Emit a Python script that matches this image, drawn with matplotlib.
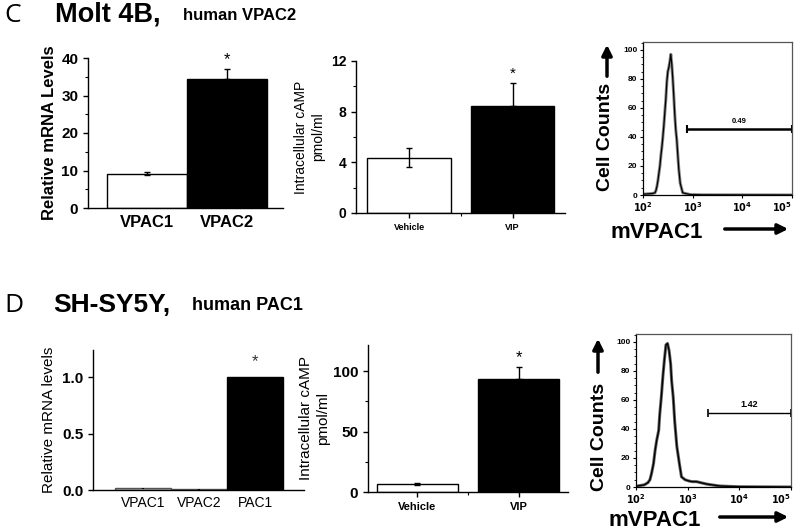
import matplotlib
matplotlib.use("Agg")
import matplotlib.pyplot as plt
import numpy as np
from matplotlib.ticker import MultipleLocator, LogLocator, NullFormatter, FixedLocator

plt.rcParams['font.family'] = ['Liberation Sans', 'DejaVu Sans']

# ---------------- data ----------------
c_mrna_labels = ['VPAC1', 'VPAC2']
c_mrna_values = [9.1, 34.4]
c_mrna_err = [0.4, 2.6]

c_camp_labels = ['Vehicle', 'VIP']
c_camp_values = [4.35, 8.45]
c_camp_err = [0.75, 1.85]

d_mrna_labels = ['VPAC1', 'VPAC2', 'PAC1']
d_mrna_values = [0.015, 0.005, 1.0]
d_mrna_err = [0.004, 0.001, 0.0]

d_camp_labels = ['Vehicle', 'VIP']
d_camp_values = [6.5, 93.0]
d_camp_err = [0.6, 10.0]

# flow histograms: fluorescence intensity and % of max
c_flow_x = [100, 126, 151, 174, 182, 191, 200, 209, 219, 229, 240, 251, 263, 275, 288,
            302, 316, 331, 347, 363, 380, 398, 417, 437, 457, 479, 501, 525, 562, 631,
            891, 1585, 100000]
c_flow_y = [0.5, 0.8, 1.0, 1.5, 3, 6, 10, 15, 20, 27, 33, 40, 48, 57, 66,
            78, 85, 88, 92, 97, 90, 80, 68, 55, 45, 38, 28, 18, 8, 1.5,
            0.3, 0.1, 0.0]
c_gate = [776, 100000, 45.5]
c_gate_label = '0.49'

d_flow_x = [100, 120, 145, 170, 186, 200, 218, 234, 251, 275, 288, 309, 331, 355,
            380, 407, 437, 468, 490, 525, 562, 617, 692, 759, 891, 1096, 1230,
            1479, 1778, 2344, 3311, 4169, 6607, 10000, 100000]
d_flow_y = [0.5, 1.0, 1.5, 3, 5, 9.4, 16, 25, 32, 39, 50, 62, 76, 88,
            98, 99, 94, 85, 73, 62, 45, 28, 16, 7, 5, 4, 3.7, 3.7,
            3.0, 2.0, 1.2, 0.7, 0.4, 0.2, 0.0]
d_gate = [2455, 100000, 51]
d_gate_label = '1.42'

W, H = 800, 532
fig = plt.figure(figsize=(8, 5.32), dpi=100)


def ax_px(x0, x1, ytop, ybot):
    return fig.add_axes([x0 / W, 1 - ybot / H, (x1 - x0) / W, (ybot - ytop) / H])


def style_bar_axes(ax):
    for s in ['top', 'right']:
        ax.spines[s].set_visible(False)
    for s in ['left', 'bottom']:
        ax.spines[s].set_linewidth(1.0)
    ax.tick_params(direction='out', width=1.0, length=3.5)
    ax.tick_params(which='minor', direction='out', width=0.8, length=2)


# ================= Panel C =================
fig.text(4 / W, 1 - 15 / H, 'C', fontsize=19, fontweight='normal',
         family=['Open Sans', 'DejaVu Sans'], va='center', ha='left')
fig.text(55 / W, 1 - 15 / H, 'Molt 4B,', fontsize=19.5, fontweight='bold', va='center')
fig.text(183 / W, 1 - 16 / H, 'human VPAC2', fontsize=12, fontweight='bold', va='center')

# C1 mRNA
ax = ax_px(88, 283, 58, 208)
pos = np.arange(len(c_mrna_values))
ax.bar(pos, c_mrna_values, width=1.0, color=['white', 'black'], edgecolor='black', linewidth=1.0)
ax.errorbar(pos, c_mrna_values, yerr=[[c_mrna_err[0], 0], c_mrna_err], fmt='none',
            ecolor='black', elinewidth=1.0, capsize=2.5, capthick=1.0)
ax.text(pos[1], c_mrna_values[1] + c_mrna_err[1] + 0.6, '*', ha='center', va='bottom', fontsize=12)
ax.set_xlim(-0.74, 1.70)
ax.set_ylim(0, 40)
ax.set_yticks([0, 10, 20, 30, 40])
ax.yaxis.set_minor_locator(MultipleLocator(5))
ax.set_xticks(pos)
ax.set_xticklabels(c_mrna_labels, fontsize=12, fontweight='bold')
for t in ax.get_yticklabels():
    t.set_fontweight('bold'); t.set_fontsize(11)
style_bar_axes(ax)
ax.tick_params(axis='x', length=0, pad=5)
ax.set_ylabel('Relative mRNA Levels', fontsize=12, fontweight='bold', labelpad=3)

# C2 cAMP
ax = ax_px(356, 565, 61, 213)
pos = np.arange(len(c_camp_values))
ax.bar(pos, c_camp_values, width=0.81, color=['white', 'black'], edgecolor='black', linewidth=1.0)
ax.errorbar(pos[0], c_camp_values[0], yerr=c_camp_err[0], fmt='none', ecolor='black',
            elinewidth=1.0, capsize=2.5, capthick=1.0)
ax.errorbar(pos[1], c_camp_values[1], yerr=[[0], [c_camp_err[1]]], fmt='none', ecolor='black',
            elinewidth=1.0, capsize=2.5, capthick=1.0)
ax.text(pos[1], c_camp_values[1] + c_camp_err[1] + 0.15, '*', ha='center', va='bottom', fontsize=11)
ax.set_xlim(-0.512, 1.507)
ax.set_ylim(0, 12)
ax.set_yticks([0, 4, 8, 12])
ax.yaxis.set_minor_locator(MultipleLocator(2))
ax.set_xticks(pos)
ax.xaxis.set_minor_locator(FixedLocator([0.5]))
ax.set_xticklabels(c_camp_labels, fontsize=6.5, fontweight='bold')
for t in ax.get_yticklabels():
    t.set_fontweight('bold'); t.set_fontsize(10)
style_bar_axes(ax)
ax.set_ylabel('Intracellular cAMP\npmol/ml', fontsize=10, labelpad=4, linespacing=1.3)

# C3 flow
ax = ax_px(643, 792, 42, 195)
ax.plot(c_flow_x, c_flow_y, color='#888888', lw=2.2)
ax.plot(c_flow_x, c_flow_y, color='black', lw=0.9)
ax.set_xscale('log')
ax.set_xlim(100, 100000)
ax.set_ylim(0, 105.5)
ax.hlines(c_gate[2], c_gate[0], c_gate[1], color='black', lw=1.8)
ax.vlines([c_gate[0], c_gate[1]], c_gate[2] - 2.5, c_gate[2] + 2.5, color='black', lw=1.5)
ax.text(np.sqrt(c_gate[0] * c_gate[1]), c_gate[2] + 2.5, c_gate_label, ha='center', va='bottom',
        fontsize=5.5, fontweight='bold')

# ================= Panel D =================
fig.text(4 / W, 1 - 306 / H, 'D', fontsize=19, fontweight='normal',
         family=['Open Sans', 'DejaVu Sans'], va='center', ha='left')
fig.text(53 / W, 1 - 305 / H, 'SH-SY5Y,', fontsize=19, fontweight='bold', va='center')
fig.text(192 / W, 1 - 306 / H, 'human PAC1', fontsize=13, fontweight='bold', va='center')

# D1 mRNA
ax = ax_px(93, 304, 350, 490)
pos = np.arange(len(d_mrna_values))
ax.bar(pos, d_mrna_values, width=1.0, color=['#bbbbbb', '#dddddd', 'black'],
       edgecolor=['#555555', '#555555', 'black'], linewidth=1.0)
ax.errorbar(pos[:2], d_mrna_values[:2], yerr=d_mrna_err[:2], fmt='none', ecolor='black',
            elinewidth=1.5, capsize=0)
ax.text(pos[2], d_mrna_values[2] + 0.07, '*', ha='center', va='bottom', fontsize=12, color='#333333')
ax.set_xlim(-0.90, 2.87)
ax.set_ylim(0, 1.24)
ax.set_yticks([0.0, 0.5, 1.0])
ax.set_yticklabels(['0.0', '0.5', '1.0'], fontsize=11, fontweight='bold')
ax.set_xticks(pos)
ax.set_xticklabels(d_mrna_labels, fontsize=10)
style_bar_axes(ax)
ax.tick_params(axis='x', length=0, pad=4)
ax.set_ylabel('Relative mRNA levels', fontsize=11, labelpad=4)

# D2 cAMP
ax = ax_px(368, 568, 345, 492)
pos = np.arange(len(d_camp_values))
ax.bar(pos, d_camp_values, width=0.80, color=['white', 'black'], edgecolor='black', linewidth=1.0)
ax.errorbar(pos[0], d_camp_values[0], yerr=d_camp_err[0], fmt='none', ecolor='black',
            elinewidth=1.0, capsize=2.5, capthick=1.0)
ax.errorbar(pos[1], d_camp_values[1], yerr=[[0], [d_camp_err[1]]], fmt='none', ecolor='black',
            elinewidth=1.0, capsize=2.5, capthick=1.0)
ax.text(pos[1], d_camp_values[1] + d_camp_err[1] + 1.5, '*', ha='center', va='bottom', fontsize=12)
ax.set_xlim(-0.49, 1.49)
ax.set_ylim(0, 121.5)
ax.set_yticks([0, 50, 100])
ax.yaxis.set_minor_locator(MultipleLocator(25))
ax.set_xticks(pos)
ax.xaxis.set_minor_locator(FixedLocator([0.5]))
ax.set_xticklabels(d_camp_labels, fontsize=8, fontweight='bold')
for t in ax.get_yticklabels():
    t.set_fontweight('bold'); t.set_fontsize(11)
style_bar_axes(ax)
ax.set_ylabel('Intracellular cAMP\npmol/ml', fontsize=11, labelpad=2, linespacing=1.3)

# D3 flow
ax = ax_px(636, 791, 334, 487)
ax.plot(d_flow_x, d_flow_y, color='#666666', lw=2.2)
ax.plot(d_flow_x, d_flow_y, color='black', lw=1.0)
ax.set_xscale('log')
ax.set_xlim(100, 100000)
ax.set_ylim(0, 105.5)
ax.hlines(d_gate[2], d_gate[0], d_gate[1], color='black', lw=1.0)
ax.vlines([d_gate[0], d_gate[1]], d_gate[2] - 2.5, d_gate[2] + 2.5, color='black', lw=1.2)
ax.text(np.sqrt(d_gate[0] * d_gate[1]), d_gate[2] + 2.5, d_gate_label, ha='center', va='bottom',
        fontsize=6.5, fontweight='bold')

# common styling of flow axes
for ax in fig.axes:
    if ax.get_xscale() == 'log':
        for s in ax.spines.values():
            s.set_linewidth(0.9)
        ax.spines['top'].set_color('#555555')
        ax.spines['right'].set_color('#555555')
        ax.set_yticks([0, 20, 40, 60, 80, 100])
        ax.yaxis.set_minor_locator(MultipleLocator(5))
        ax.set_xticks([1e2, 1e3, 1e4, 1e5])
        ax.set_xticklabels([r'$\mathbf{10^2}$', r'$\mathbf{10^3}$', r'$\mathbf{10^4}$', r'$\mathbf{10^5}$'],
                           fontsize=7)
        ax.get_xticklabels()[-1].set_horizontalalignment('right')
        ax.xaxis.set_minor_locator(LogLocator(base=10, subs=np.arange(2, 10)))
        ax.xaxis.set_minor_formatter(NullFormatter())
        for t in ax.get_yticklabels():
            t.set_fontweight('bold'); t.set_fontsize(6)
        ax.tick_params(direction='out', length=2.5, width=0.8, pad=1.5)
        ax.tick_params(which='minor', direction='out', length=1.5, width=0.6)

# axis titles with arrows for flow panels
for (tx, ty, ax0, ay0, ay1, mx, my, mx0, mx1, myarr) in [
        (605, 137, 607, 79, 42, 657, 232, 722, 791, 229),
        (599, 437, 598, 375, 336, 655, 520, 717, 791, 517)]:
    fig.text(tx / W, 1 - ty / H, 'Cell Counts', rotation=90, fontsize=14, fontweight='bold',
             ha='center', va='center')
    fig.add_artist(matplotlib.patches.FancyArrowPatch(
        (ax0 / W, 1 - ay0 / H), (ax0 / W, 1 - ay1 / H), transform=fig.transFigure,
        arrowstyle='-|>,head_length=6,head_width=3', lw=2.5, color='black', mutation_scale=1))
    fig.text(mx / W, 1 - my / H, 'mVPAC1', fontsize=16, fontweight='bold', ha='center', va='center')
    fig.add_artist(matplotlib.patches.FancyArrowPatch(
        (mx0 / W, 1 - myarr / H), (mx1 / W, 1 - myarr / H), transform=fig.transFigure,
        arrowstyle='-|>,head_length=6,head_width=3', lw=2.5, color='black', mutation_scale=1))

fig.savefig('out.png', dpi=100)
